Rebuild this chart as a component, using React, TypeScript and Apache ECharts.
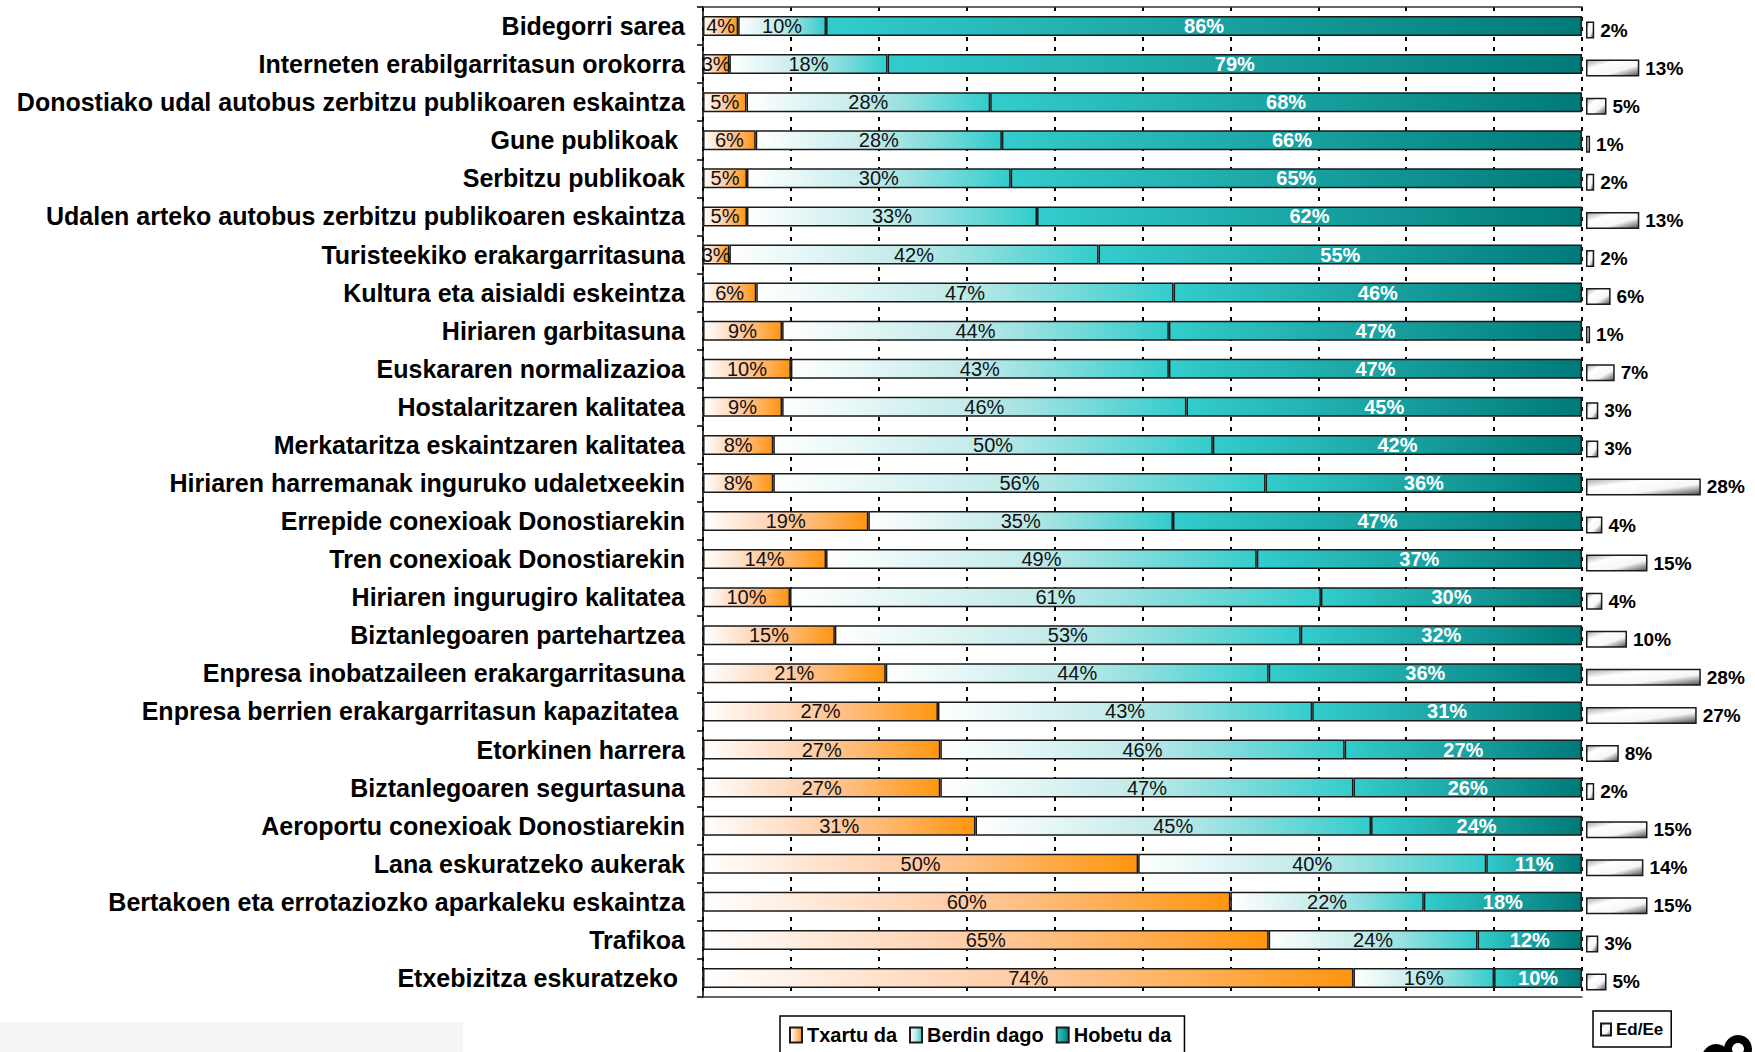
import React, { useEffect, useRef } from "react";
import * as echarts from "echarts";

const categories = [
  "Bidegorri sarea",
  "Interneten erabilgarritasun orokorra",
  "Donostiako udal autobus zerbitzu publikoaren eskaintza",
  "Gune publikoak ",
  "Serbitzu publikoak",
  "Udalen arteko autobus zerbitzu publikoaren eskaintza",
  "Turisteekiko erakargarritasuna",
  "Kultura eta aisialdi eskeintza",
  "Hiriaren garbitasuna",
  "Euskararen normalizazioa",
  "Hostalaritzaren kalitatea",
  "Merkataritza eskaintzaren kalitatea",
  "Hiriaren harremanak inguruko udaletxeekin",
  "Errepide conexioak Donostiarekin",
  "Tren conexioak Donostiarekin",
  "Hiriaren ingurugiro kalitatea",
  "Biztanlegoaren partehartzea",
  "Enpresa inobatzaileen erakargarritasuna",
  "Enpresa berrien erakargarritasun kapazitatea ",
  "Etorkinen harrera",
  "Biztanlegoaren segurtasuna",
  "Aeroportu conexioak Donostiarekin",
  "Lana eskuratzeko aukerak",
  "Bertakoen eta errotaziozko aparkaleku eskaintza",
  "Trafikoa",
  "Etxebizitza eskuratzeko ",
];

const txartu = [4, 3, 5, 6, 5, 5, 3, 6, 9, 10, 9, 8, 8, 19, 14, 10, 15, 21, 27, 27, 27, 31, 50, 60, 65, 74];
const berdin = [10, 18, 28, 28, 30, 33, 42, 47, 44, 43, 46, 50, 56, 35, 49, 61, 53, 44, 43, 46, 47, 45, 40, 22, 24, 16];
const hobetu = [86, 79, 68, 66, 65, 62, 55, 46, 47, 47, 45, 42, 36, 47, 37, 30, 32, 36, 31, 27, 26, 24, 11, 18, 12, 10];
const edEe = [2, 13, 5, 1, 2, 13, 2, 6, 1, 7, 3, 3, 28, 4, 15, 4, 10, 28, 27, 8, 2, 15, 14, 15, 3, 5];

const seriesNames = ["Txartu da", "Berdin dago", "Hobetu da"];
const edName = "Ed/Ee";

const FONT = "'Liberation Sans', Arial, Helvetica, sans-serif";

function grad(stops: [number, string][], x2 = 1, y2 = 0) {
  return {
    type: "linear",
    x: 0,
    y: 0,
    x2,
    y2,
    colorStops: stops.map(([offset, color]) => ({ offset, color })),
  };
}

export default function App() {
  const ref = useRef<HTMLDivElement>(null);

  useEffect(() => {
    if (!ref.current) return;
    const chart = echarts.init(ref.current, undefined, { renderer: "svg" });

    // rows shown as shares of their own total so each row fills the 0–100 scale
    const totals = categories.map((_, i) => txartu[i] + berdin[i] + hobetu[i]);
    const share = (arr: number[]) => arr.map((v, i) => (v / totals[i]) * 100);

    const border = { borderColor: "#1a1a1a", borderWidth: 1.5 };

    const mk = (
      name: string,
      raw: number[],
      color: any,
      labelColor: string,
      bold: boolean
    ) => ({
      name,
      type: "bar",
      stack: "main",
      xAxisIndex: 0,
      yAxisIndex: 0,
      barWidth: 20,
      data: share(raw),
      itemStyle: { color, ...border },
      label: {
        show: true,
        position: "inside",
        color: labelColor,
        fontFamily: FONT,
        fontSize: 20,
        fontWeight: bold ? "bold" : "normal",
        formatter: (p: any) => raw[p.dataIndex] + "%",
      },
    });

    const option: any = {
      animation: false,
      backgroundColor: "#ffffff",
      textStyle: { fontFamily: FONT },
      grid: [
        { left: 703, top: 7, width: 879, height: 990 },
        { left: 1586, top: 11, width: 164, height: 990 },
      ],
      xAxis: [
        {
          type: "value",
          gridIndex: 0,
          min: 0,
          max: 100,
          interval: 10,
          position: "bottom",
          axisLine: { show: true, lineStyle: { color: "#333", width: 1.5 } },
          axisTick: { show: false },
          axisLabel: { show: false },
          splitLine: {
            show: true,
            lineStyle: { color: "#000", width: 2, type: [4, 6] },
          },
        },
        {
          type: "value",
          gridIndex: 0,
          min: 0,
          max: 100,
          position: "top",
          axisLine: { show: true, lineStyle: { color: "#333", width: 1.5 } },
          axisTick: { show: false },
          axisLabel: { show: false },
          splitLine: { show: false },
        },
        {
          type: "value",
          gridIndex: 1,
          min: 0,
          max: 40,
          show: false,
          splitLine: { show: false },
        },
      ],
      yAxis: [
        {
          type: "category",
          gridIndex: 0,
          inverse: true,
          data: categories,
          axisLine: { show: true, lineStyle: { color: "#000", width: 1.5 } },
          axisTick: { show: true, length: 6, lineStyle: { color: "#000", width: 1.5 } },
          axisLabel: {
            margin: 18,
            color: "#000",
            fontFamily: FONT,
            fontSize: 25,
            fontWeight: "bold",
          },
        },
        {
          type: "category",
          gridIndex: 1,
          inverse: true,
          data: categories,
          show: false,
        },
      ],
      legend: [
        {
          data: seriesNames,
          left: 780,
          top: 1016,
          orient: "horizontal",
          icon: "rect",
          backgroundColor: "#fff",
          borderColor: "#000",
          borderWidth: 1.5,
          padding: [9, 13, 20, 9],
          itemGap: 12,
          itemWidth: 12,
          itemHeight: 15,
          textStyle: { fontFamily: FONT, fontSize: 20, fontWeight: "bold", color: "#000" },
        },
        {
          data: [edName],
          left: 1593,
          top: 1011,
          orient: "horizontal",
          icon: "rect",
          backgroundColor: "#fff",
          borderColor: "#000",
          borderWidth: 1.5,
          padding: [10, 8, 9, 7],
          itemWidth: 10,
          itemHeight: 12,
          textStyle: { fontFamily: FONT, fontSize: 17, fontWeight: "bold", color: "#000" },
        },
      ],
      graphic: [
        {
          type: "rect",
          shape: { x: 0, y: 1022, width: 463, height: 30 },
          style: { fill: "#f5f5f5" },
          silent: true,
        },
        {
          type: "ring",
          shape: { cx: 1738, cy: 1049, r: 14, r0: 6 },
          style: { fill: "#000" },
          silent: true,
        },
        {
          type: "ring",
          shape: { cx: 1716, cy: 1058, r: 14, r0: 6 },
          style: { fill: "#000" },
          silent: true,
        },
      ],
      series: [
        mk(
          seriesNames[0],
          txartu,
          grad([
            [0, "#ffffff"],
            [0.5, "#ffcaa2"],
            [1, "#ff950f"],
          ]),
          "#111",
          false
        ),
        mk(
          seriesNames[1],
          berdin,
          grad([
            [0, "#ffffff"],
            [0.5, "#bde9e8"],
            [1, "#33cccc"],
          ]),
          "#111",
          false
        ),
        mk(
          seriesNames[2],
          hobetu,
          grad([
            [0, "#33cccc"],
            [1, "#007a78"],
          ]),
          "#ffffff",
          true
        ),
        {
          name: edName,
          type: "bar",
          xAxisIndex: 2,
          yAxisIndex: 1,
          barWidth: 17,
          data: edEe,
          itemStyle: {
            color: grad(
              [
                [0, "#a8a8a8"],
                [0.3, "#ffffff"],
                [0.65, "#f6f6f6"],
                [1, "#4a4a4a"],
              ],
              1,
              1
            ),
            borderColor: "#1a1a1a",
            borderWidth: 1.5,
          },
          label: {
            show: true,
            position: "right",
            distance: 6,
            color: "#000",
            fontFamily: FONT,
            fontSize: 19,
            fontWeight: "bold",
            formatter: (p: any) => edEe[p.dataIndex] + "%",
          },
        },
      ],
    };

    chart.setOption(option);
    return () => chart.dispose();
  }, []);

  return (
    <div
      ref={ref}
      style={{ position: "absolute", left: 0, top: 0, width: 1755, height: 1052 }}
    />
  );
}
